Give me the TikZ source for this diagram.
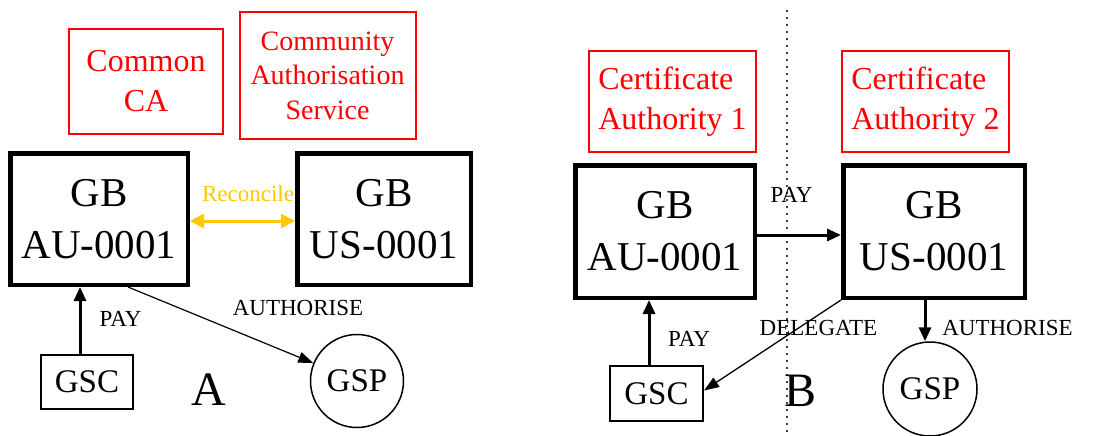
\documentclass[tikz,border=0pt]{standalone}
\usepackage{fontspec}
\setmainfont{Liberation Serif}
\usetikzlibrary{arrows.meta,calc}
\definecolor{cared}{RGB}{255,0,0}
\definecolor{reconcile}{RGB}{255,200,0}
\tikzset{
  authority/.style={draw=cared, line width=2pt, text=cared, inner sep=0pt, align=center},
  gridbox/.style={draw, line width=4.5pt, inner sep=0pt, align=center, font=\fontsize{41}{52}\selectfont},
  party/.style={draw, line width=2pt, inner sep=0pt, font=\fontsize{33}{38}\selectfont},
  provider/.style={draw, circle, line width=1.5pt, inner sep=0pt, font=\fontsize{33}{38}\selectfont},
  flowlabel/.style={font=\fontsize{23}{26}\selectfont, inner sep=0pt},
  panelmark/.style={font=\fontsize{48}{52}\selectfont, inner sep=0pt},
  heavyflow/.style={line width=3pt, -{Triangle[length=14pt,width=12pt]}},
  lightflow/.style={line width=1.3pt, -{Triangle[length=15pt,width=11pt]}},
}
\begin{document}
\begin{tikzpicture}[x=1pt,y=-1pt]
\useasboundingbox (0,0) rectangle (1116,436);
\clip (0,0) rectangle (1116,436);

% ---------- panel A ----------
\node[authority, minimum width=154pt, minimum height=105pt,
      font=\fontsize{32}{40}\selectfont] (ca) at (146,81.5) {Common\\CA};
\node[authority, minimum width=176pt, minimum height=126pt,
      font=\fontsize{28}{34.5}\selectfont] (cas) at (327.5,75.5) {Community\\Authorisation\\Service};

\node[gridbox, minimum width=177.5pt, minimum height=131.5pt] (au) at (99,219) {GB\\AU-0001};
\node[gridbox, minimum width=173.5pt, minimum height=131.5pt] (us) at (384,219) {GB\\US-0001};

\node[party, minimum width=92pt, minimum height=54pt] (gsc) at (87,382) {GSC};
\node[provider, minimum size=93pt] (gsp) at (357,381) {GSP};

\node[panelmark] (markA) at (209,390) {A};

% reconcile between the two grid identities
\draw[reconcile, line width=3pt, {Triangle[length=14pt,width=14pt]}-{Triangle[length=14pt,width=14pt]}]
  ([yshift=-2pt]au.east) -- ([yshift=-2pt]us.west);
\node[flowlabel, text=reconcile] (reclabel) at (248,194) {Reconcile};

% payment from the consumer
\draw[heavyflow] ([xshift=-7pt]gsc.north) -- ([xshift=-7pt]gsc.north |- au.south);
\node[flowlabel] (payA) at (120.5,319) {PAY};

% authorisation towards the provider
\draw[lightflow, line width=1.2pt] ([xshift=29pt]au.south) -- (gsp);
\node[flowlabel] (authA) at (298,307.5) {AUTHORISE};

% ---------- divider ----------
\coordinate (divtop) at (787,10);
\coordinate (divbot) at (787,436);
\draw[black!75, line width=1.2pt, dash pattern=on 2pt off 5pt] (divtop) -- (divbot);

% ---------- panel B ----------
\node[authority, minimum width=167pt, minimum height=101pt,
      font=\fontsize{32}{40}\selectfont, align=left] (ca1) at (672.5,101.5) {Certificate\\Authority 1};
\node[authority, minimum width=167pt, minimum height=101pt,
      font=\fontsize{32}{40}\selectfont, align=left] (ca2) at (925.5,101.5) {Certificate\\Authority 2};

\node[gridbox, minimum width=179.5pt, minimum height=132.5pt] (au2) at (665,231.5) {GB\\AU-0001};
\node[gridbox, minimum width=181.5pt, minimum height=132.5pt] (us2) at (934,231.5) {GB\\US-0001};

\node[party, minimum width=93pt, minimum height=55pt] (gsc2) at (656.5,393.5) {GSC};
\node[provider, minimum size=94pt] (gsp2) at (930,389) {GSP};

\node[panelmark] (markB) at (800,391) {B};

% payment between the two grid identities
\draw[heavyflow] ([yshift=-3.5pt]au2.east) -- ([yshift=-3.5pt]us2.west);
\node[flowlabel] (payB) at (791.5,195) {PAY};

% payment from the consumer
\draw[heavyflow] ([xshift=-7.5pt]gsc2.north) -- ([xshift=-7.5pt]gsc2.north |- au2.south);
\node[flowlabel] (payB2) at (689,339) {PAY};

% delegation back to the consumer
\draw[lightflow] (us2.south west) -- ([yshift=3pt]gsc2.east);
\node[flowlabel] (delB) at (818.5,328) {DELEGATE};

% authorisation towards the provider
\draw[heavyflow] ([xshift=-5pt]gsp2.north |- us2.south) -- ([xshift=-5pt]gsp2.north);
\node[flowlabel] (authB) at (1007.5,328) {AUTHORISE};
\end{tikzpicture}
\end{document}
